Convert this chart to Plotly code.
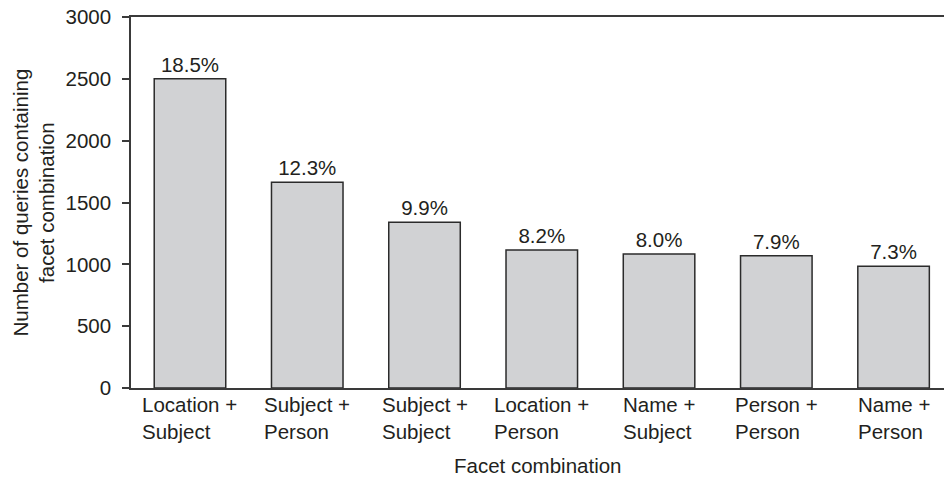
import plotly.graph_objects as go

categories = ["Location +<br>Subject", "Subject +<br>Person", "Subject +<br>Subject",
              "Location +<br>Person", "Name +<br>Subject", "Person +<br>Person", "Name +<br>Person"]
counts = [2500, 1663, 1340, 1115, 1083, 1070, 985]
percent_labels = ["18.5%", "12.3%", "9.9%", "8.2%", "8.0%", "7.9%", "7.3%"]
y_ticks = [0, 500, 1000, 1500, 2000, 2500, 3000]

FONT = "Liberation Sans, Arial, Helvetica, sans-serif"
TXT = "#231f20"
FS = 20.5
x_idx = list(range(len(categories)))

fig = go.Figure()
fig.add_trace(go.Bar(
    x=x_idx, y=counts, text=percent_labels, textposition="outside",
    textfont=dict(size=FS, color=TXT, family=FONT),
    marker=dict(color="#d1d2d4", line=dict(color="#2b2b2b", width=1.5)),
    cliponaxis=False, hoverinfo="skip",
))

annotations = []
for i, c in enumerate(categories):
    annotations.append(dict(x=i, y=0, xref="x", yref="paper", text=c, showarrow=False,
                            xanchor="center", yanchor="top", align="left", yshift=-3,
                            font=dict(size=FS, color=TXT, family=FONT)))
annotations.append(dict(x=0.5, y=0, xref="paper", yref="paper", text="Facet combination",
                        showarrow=False, xanchor="center", yanchor="middle", yshift=-77,
                        font=dict(size=FS, color=TXT, family=FONT)))
annotations.append(dict(x=0, y=0.5, xref="paper", yref="paper",
                        text="Number of queries containing<br>facet combination",
                        showarrow=False, xanchor="center", yanchor="middle", xshift=-98,
                        textangle=-90, font=dict(size=FS, color=TXT, family=FONT)))

fig.update_layout(
    width=944, height=477,
    margin=dict(l=131, r=0, t=17, b=89),
    paper_bgcolor="white", plot_bgcolor="white",
    bargap=0.39, showlegend=False, hovermode=False,
    font=dict(family=FONT, size=FS, color=TXT),
    annotations=annotations,
    xaxis=dict(range=[-0.503, 6.43], showticklabels=False, ticks="", showgrid=False,
               zeroline=False, showline=True, mirror=True, linecolor="#3a3a3a", linewidth=1.5,
               tickvals=x_idx, automargin=False),
    yaxis=dict(range=[0, 3000], tickvals=y_ticks, ticks="outside", ticklen=7, tickwidth=1.5,
               tickcolor="#3a3a3a", showgrid=False, zeroline=False, showline=True,
               linecolor="#3a3a3a", linewidth=1.5, ticklabelstandoff=7,
               ticklabeloverflow="allow", automargin=False,
               tickfont=dict(size=FS, color=TXT, family=FONT)),
)

# remove the browser's default 8px body margin so the 944x477 figure fills the window exactly
fig.write_html("out.html", config={"displayModeBar": False},
               post_script="document.body.style.margin='0';document.body.style.overflow='hidden';")
